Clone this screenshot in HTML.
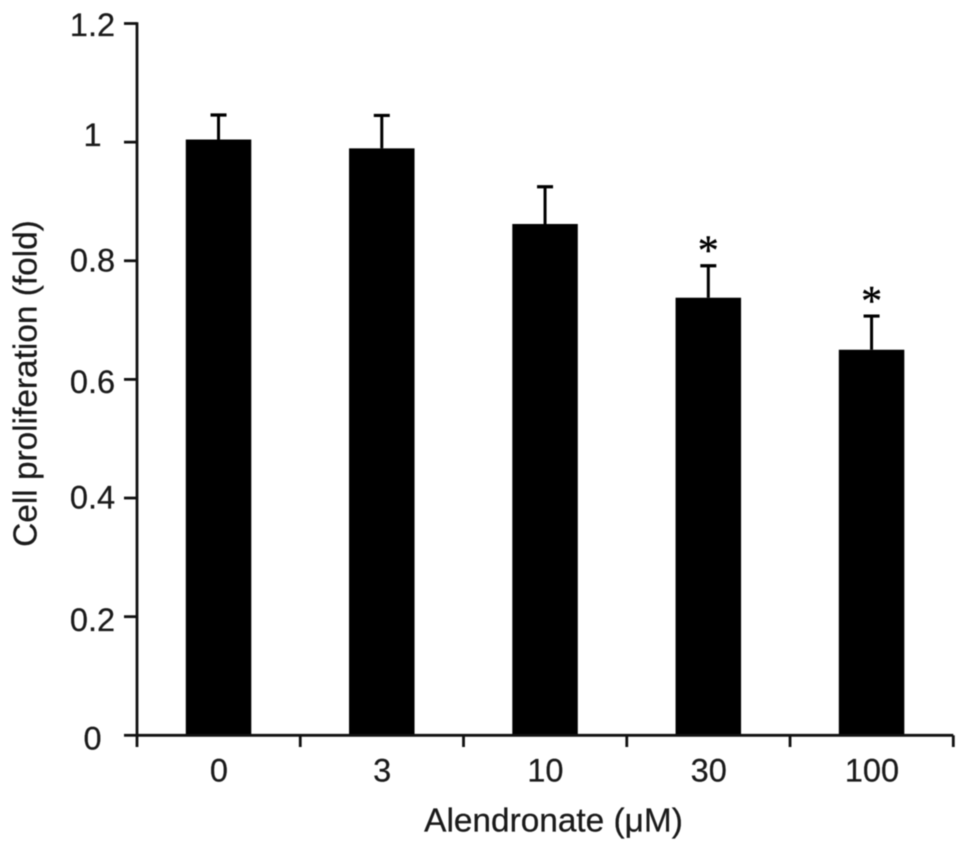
<!DOCTYPE html>
<html>
<head>
<meta charset="utf-8">
<style>
html,body{margin:0;padding:0;background:#fff;width:969px;height:851px;overflow:hidden}
svg{display:block;filter:blur(0.45px)}
text{font-family:"Liberation Sans",Arial,sans-serif;fill:#1a1a1a;stroke:#1a1a1a;stroke-width:0.25px}
</style>
</head>
<body>
<svg id="chart" width="969" height="851" viewBox="0 0 969 851" xmlns="http://www.w3.org/2000/svg"></svg>
<script>
const categories = ['0','3','10','30','100'];
const values = [1.0044,0.9895,0.862,0.7377,0.650];
const errors = [0.0413,0.0555,0.0628,0.0539,0.0568];
const significant = [false,false,false,true,true];
const yTicks = [0,0.2,0.4,0.6,0.8,1,1.2];
const yTickLabels = ['0','0.2','0.4','0.6','0.8','1','1.2'];

const svg = document.getElementById('chart');
const NS = 'http://www.w3.org/2000/svg';
const plot = {left:137,right:953.3,top:23.5,bottom:735.3};
const yMax = 1.2;
const axisColor = '#111';
function y(v){return plot.bottom-(v/yMax)*(plot.bottom-plot.top);}
function band(){return (plot.right-plot.left)/categories.length;}
function x(i){return plot.left+band()*(i+0.5);}
function mk(tag,attrs,text){
  const e=document.createElementNS(NS,tag);
  for(const k in attrs)e.setAttribute(k,attrs[k]);
  if(text!==undefined)e.textContent=text;
  svg.appendChild(e);
  return e;
}
// Vertical drop of each y tick label below its tick, as hand-placed in the figure.
function labelDrop(i){return [14,14.5,10.5,13.5,10.6,4,12.5][i];}
const barW=65.5;
categories.forEach((c,i)=>{
  const cx=x(i)-0.1;
  const bar=mk('rect',{x:cx-barW/2,y:y(values[i]),width:barW,height:plot.bottom-y(values[i]),fill:'#000'});
  
  
  const top=y(values[i]+errors[i]);
  const stem=mk('line',{x1:cx,x2:cx,y1:top,y2:y(values[i]),stroke:'#000','stroke-width':3});
  
  
  const cap=mk('line',{x1:cx-8,x2:cx+8,y1:top,y2:top,stroke:'#000','stroke-width':3.2});
  
  
  if(significant[i]){
    const s=mk('text',{x:cx,y:top-1,'text-anchor':'middle','font-size':42,style:'font-family:"Liberation Serif",serif;fill:#000;stroke:#000;stroke-width:0.4px'},'*');
    
    
  }
  const l=mk('text',{x:cx+0.4,y:781.7,'text-anchor':'middle','font-size':32.5},c);
  
  
});
const yAxis=mk('line',{x1:plot.left,x2:plot.left,y1:plot.top-1.3,y2:plot.bottom+11.7,stroke:axisColor,'stroke-width':2.8});


const xAxis=mk('line',{x1:plot.left,x2:plot.right,y1:plot.bottom,y2:plot.bottom,stroke:axisColor,'stroke-width':2.8});


yTicks.forEach((t,i)=>{
  const yy=y(t);
  const tick=mk('line',{x1:plot.left-13,x2:plot.left,y1:yy,y2:yy,stroke:axisColor,'stroke-width':2.8});
  
  
  const l=mk('text',{x:92.5,y:yy+labelDrop(i),'text-anchor':'middle','font-size':32.5},yTickLabels[i]);
  
  
});
for(let i=1;i<=categories.length;i++){
  const xx=plot.left+band()*i;
  const tick=mk('line',{x1:xx,x2:xx,y1:plot.bottom,y2:plot.bottom+11.7,stroke:axisColor,'stroke-width':2.8});
  
  
}
const xt=mk('text',{x:553.5,y:831.7,'text-anchor':'middle','font-size':33.4},'Alendronate (μM)');


const yt=mk('text',{x:0,y:0,'text-anchor':'middle','font-size':33.4,transform:'translate(36.5,383.5) rotate(-90)'},'Cell proliferation (fold)');


</script>
</body>
</html>
